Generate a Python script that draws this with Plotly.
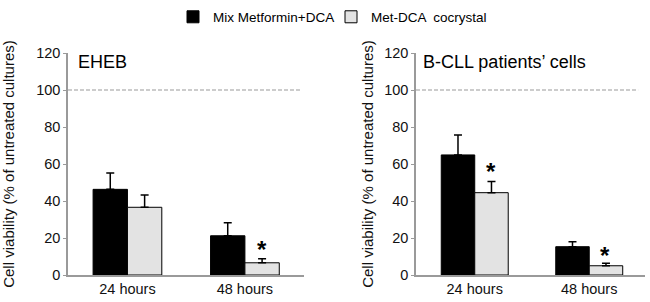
import plotly.graph_objects as go

categories = ["24 hours", "48 hours"]
series_names = ["Mix Metformin+DCA", "Met-DCA  cocrystal"]

eheb_mix = [46.3, 21.2]
eheb_mix_err = [8.8, 7.0]
eheb_co = [36.6, 6.6]
eheb_co_err = [6.6, 2.2]

bcll_mix = [64.9, 15.3]
bcll_mix_err = [10.8, 2.7]
bcll_co = [44.5, 5.0]
bcll_co_err = [6.0, 1.3]

panel_titles = ["EHEB", "B-CLL patients\u2019 cells"]
y_title = "Cell viability (% of untreated cultures)"
y_ticks = [0, 20, 40, 60, 80, 100, 120]
control_level = 100

# significance marks: (panel, category, y position)
stars = [(0, "48 hours", 16.0), (1, "24 hours", 58.0), (1, "48 hours", 12.5)]

FONT = "Liberation Sans, Arial, sans-serif"
colors = ["#000000", "#e3e3e3"]

fig = go.Figure()

panels = [
    (eheb_mix, eheb_mix_err, eheb_co, eheb_co_err, "x", "y"),
    (bcll_mix, bcll_mix_err, bcll_co, bcll_co_err, "x2", "y2"),
]
for i, (m, me, c, ce, xa, ya) in enumerate(panels):
    for j, (vals, errs) in enumerate([(m, me), (c, ce)]):
        fig.add_trace(go.Bar(
            x=categories, y=vals, name=series_names[j],
            marker=dict(color=colors[j], line=dict(color="#000000", width=1)),
            error_y=dict(type="data", array=errs, arrayminus=[0] * len(errs),
                         symmetric=False, color="#000000", thickness=1.5, width=4),
            xaxis=xa, yaxis=ya, showlegend=(i == 0), offsetgroup=str(j),
            legend="legend" if j == 0 else "legend2",
        ))

ydom = [27 / 302, (302 - 53) / 302]
axis_common = dict(showline=True, linecolor="#9a9a9a", linewidth=1.5, showgrid=False,
                   zeroline=False, automargin=False)
legend_common = dict(orientation="h", y=0.995, xanchor="left", yanchor="top",
                     font=dict(size=13.5, color="#000000"), bgcolor="rgba(0,0,0,0)")
fig.update_layout(
    width=650, height=302,
    margin=dict(l=0, r=0, t=0, b=0),
    paper_bgcolor="white", plot_bgcolor="white",
    barmode="group", bargap=0.415, bargroupgap=0,
    font=dict(family=FONT, size=14, color="#111111"),
    xaxis=dict(domain=[68 / 650, 304 / 650], type="category", range=[-0.506, 1.503],
               ticks="", tickfont=dict(size=14.5), **axis_common),
    yaxis=dict(domain=ydom, range=[0, 120], tickvals=y_ticks, ticks="outside", ticklen=3,
               tickcolor="#9a9a9a", tickfont=dict(size=14.5),
               title=dict(text=y_title, font=dict(size=15), standoff=19), **axis_common),
    xaxis2=dict(domain=[416 / 650, 645 / 650], type="category", range=[-0.513, 1.487],
                ticks="", tickfont=dict(size=14.5), anchor="y2", **axis_common),
    yaxis2=dict(domain=ydom, range=[0, 120], tickvals=y_ticks, ticks="outside", ticklen=3,
                tickcolor="#9a9a9a", tickfont=dict(size=14.5), anchor="x2",
                title=dict(text=y_title, font=dict(size=15), standoff=7), **axis_common),
    legend=dict(x=173 / 650, **legend_common),
    legend2=dict(x=331 / 650, **legend_common),
)

title_x = [0.034, 0.02]
for k, (xd, yd) in enumerate([("x domain", "y"), ("x2 domain", "y2")]):
    fig.add_shape(type="line", xref=xd, yref=yd, x0=0, x1=0.983 if k == 0 else 0.97,
                  y0=control_level, y1=control_level,
                  line=dict(color="#999999", width=1, dash="4px,2px"))
    fig.add_annotation(text=panel_titles[k], xref=xd, yref=yd, x=title_x[k], y=115,
                       xanchor="left", yanchor="middle", showarrow=False,
                       font=dict(size=18, color="#000000"))

for p, cat, yv in stars:
    fig.add_annotation(text="<b>*</b>", xref="x" if p == 0 else "x2",
                       yref="y" if p == 0 else "y2", x=cat, y=yv, xshift=17 if p == 0 else 16,
                       showarrow=False, yanchor="middle", yshift=-4,
                       font=dict(size=24, color="#000000"))

fig.write_html("out.html", config={"displayModeBar": False},
               post_script="document.body.style.margin='0';")
